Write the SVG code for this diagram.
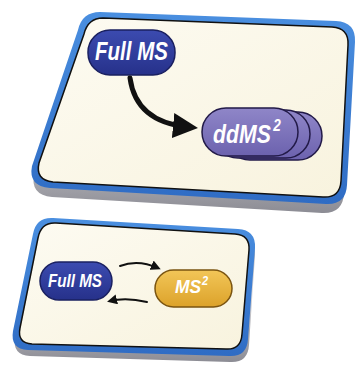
<svg xmlns="http://www.w3.org/2000/svg" width="358" height="367" viewBox="0 0 358 367">
<defs>
<linearGradient id="blueEdge" x1="0" y1="0" x2="0" y2="1">
<stop offset="0" stop-color="#4A8FE0"/><stop offset="1" stop-color="#2F6CC4"/>
</linearGradient>
<linearGradient id="shadow" x1="0" y1="0" x2="0" y2="1">
<stop offset="0" stop-color="#9A9AA2"/><stop offset="0.5" stop-color="#D8D8DC"/><stop offset="1" stop-color="#8C8C94"/>
</linearGradient>
<linearGradient id="cream" x1="0" y1="0" x2="1" y2="1">
<stop offset="0" stop-color="#FDFBF2"/><stop offset="1" stop-color="#F8F3DE"/>
</linearGradient>
<linearGradient id="navy" x1="0" y1="0" x2="0" y2="1">
<stop offset="0" stop-color="#3C4BB0"/><stop offset="1" stop-color="#26318A"/>
</linearGradient>
<linearGradient id="lav" x1="0" y1="0" x2="0" y2="1">
<stop offset="0" stop-color="#8F86C8"/><stop offset="1" stop-color="#6C62AE"/>
</linearGradient>
<linearGradient id="gold" x1="0" y1="0" x2="0" y2="1">
<stop offset="0" stop-color="#F2C658"/><stop offset="1" stop-color="#DCA22A"/>
</linearGradient>
<marker id="headBig" viewBox="0 0 10 10" refX="6" refY="5" markerWidth="5" markerHeight="5" orient="auto" markerUnits="strokeWidth">
<path d="M0,0 L10,5 L0,10 Z" fill="#111"/>
</marker>
<marker id="headSmall" viewBox="0 0 10 10" refX="7" refY="5" markerWidth="5" markerHeight="5" orient="auto" markerUnits="strokeWidth">
<path d="M0,0 L10,5 L0,10 Z" fill="#111"/>
</marker>
</defs>
<style>
.pill-text{font-family:"Liberation Sans","DejaVu Sans",sans-serif;font-weight:bold;font-style:italic;fill:#FFFFFF}
.inner{fill:url(#cream);stroke:#111;stroke-width:1.5}
.edge{fill:url(#blueEdge)}
.shade{fill:url(#shadow)}
.conn{fill:none;stroke:#111;stroke-linecap:round}
</style>
<rect width="358" height="367" fill="#FFFFFF"/>

<g id="card-top">
<path class="shade" d="M102,20 L333,29 Q353,30 352,50 L344,193 Q343,214 322,213 L52,197 Q30,195 34,174 L80,38 Q84,20 102,20 Z"/>
<path class="edge" d="M100,12 L336,21 Q356,22 355,42 L347,185 Q346,205 326,204 L50,188 Q28,186 32,166 L78,30 Q82,12 100,12 Z"/>
<path class="inner" d="M103,18 L332,27 Q349,28 348,45 L341,181 Q340,198 323,197 L53,182 Q35,180 39,163 L84,34 Q88,18 103,18 Z"/>
</g>

<g id="card-bottom">
<path class="shade" d="M54,224 L238,236 Q256,237 255,255 L249,345 Q248,363 230,362 L30,356 Q12,355 15,337 L34,240 Q37,223 54,224 Z"/>
<path class="edge" d="M53,218 L238,229 Q256,230 255,248 L248,339 Q247,357 229,356 L28,350 Q10,349 13,331 L33,234 Q36,217 53,218 Z"/>
<path class="inner" d="M56,223 L235,234 Q250,235 249,250 L242,334 Q241,350 226,349 L32,344 Q17,343 20,328 L38,238 Q41,222 56,223 Z"/>
</g>

<g id="node-fullms-top">
<rect x="88" y="30" width="87" height="45" rx="22" fill="url(#navy)" stroke="#1A2060" stroke-width="1.5"/>
<text class="pill-text" transform="translate(95,60) scale(0.82,1)" font-size="25">Full MS</text>
</g>

<g id="node-ddms2">
<rect x="226" y="112" width="96" height="48" rx="24" fill="url(#lav)" stroke="#221A48" stroke-width="1.5"/>
<rect x="214" y="110" width="96" height="48" rx="24" fill="url(#lav)" stroke="#221A48" stroke-width="1.5"/>
<rect x="202" y="108" width="96" height="48" rx="24" fill="url(#lav)" stroke="#221A48" stroke-width="1.5"/>
<text class="pill-text" transform="translate(213,143) scale(0.85,1)" font-size="25">ddMS<tspan font-size="16" dx="3" dy="-12">2</tspan></text>
</g>

<g id="node-fullms-bottom">
<rect x="40" y="262" width="72" height="38" rx="19" fill="url(#navy)" stroke="#1A2060" stroke-width="1.5"/>
<text class="pill-text" transform="translate(48,287) scale(0.8,1)" font-size="19">Full MS</text>
</g>

<g id="node-ms2">
<rect x="155" y="270" width="77" height="37" rx="18.5" fill="url(#gold)" stroke="#7A5410" stroke-width="1.5"/>
<text class="pill-text" transform="translate(175,293) scale(0.92,1)" font-size="19">MS<tspan font-size="12" dx="1" dy="-8">2</tspan></text>
</g>

<g id="connectors">
<path class="conn" stroke-width="5" d="M130,78 Q136,122 188,127" marker-end="url(#headBig)"/>
<path class="conn" stroke-width="2" d="M120,266 Q138,259 158,268" marker-end="url(#headSmall)"/>
<path class="conn" stroke-width="2" d="M147,302 Q126,297 110,301" marker-end="url(#headSmall)"/>
</g>
</svg>
